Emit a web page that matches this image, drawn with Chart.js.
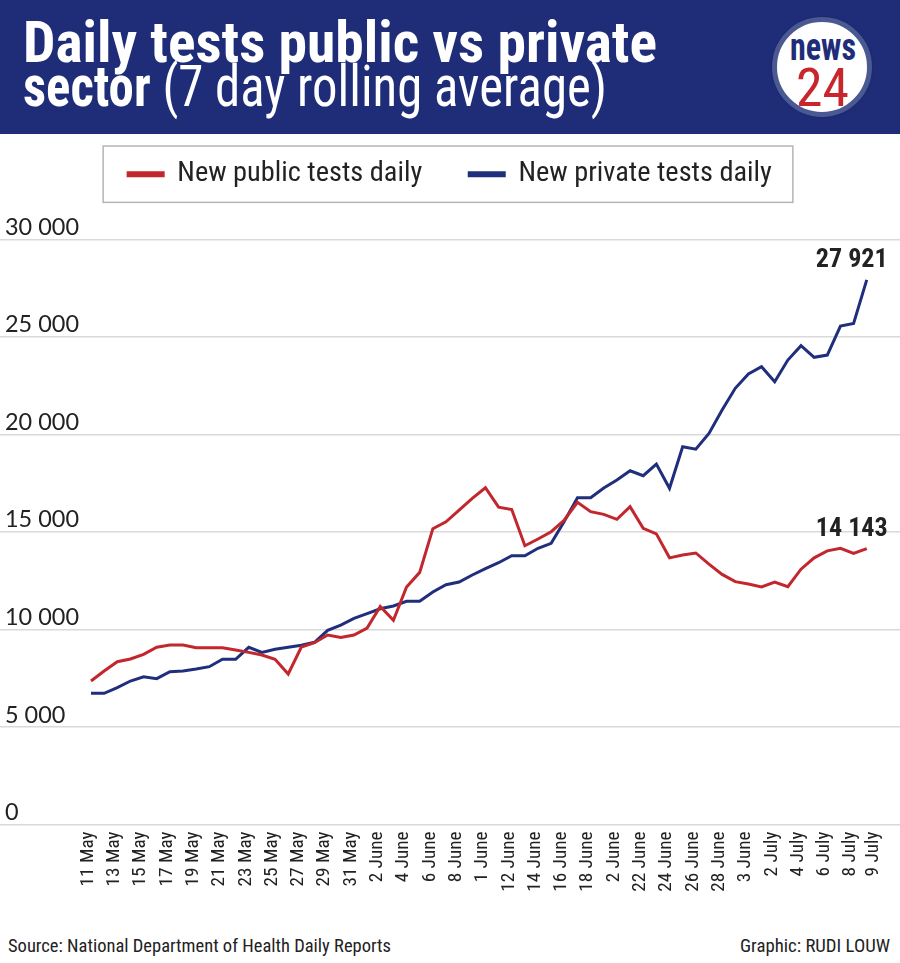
<!DOCTYPE html>
<html lang="en">
<head>
<meta charset="utf-8">
<title>Daily tests public vs private sector</title>
<script src="https://cdn.jsdelivr.net/npm/chart.js@4.4.1/dist/chart.umd.min.js"></script>
<style>
  html, body { margin:0; padding:0; background:#fff; }
  #page { position:relative; width:900px; height:963px; overflow:hidden; background:#fff; }
  #header { position:absolute; left:0; top:0; width:900px; height:134px; background:#1f2d79; }
  .ht { position:absolute; left:23px; white-space:nowrap; color:#fff; transform-origin:0 0; line-height:1; }
  #logo { position:absolute; left:772px; top:17px; width:100px; height:100px; border-radius:50%; background:#fff; box-sizing:border-box; border:5px solid #4b5993; box-shadow:0 0 2px #15205a; }
  #logoNews, #logo24 { position:absolute; white-space:nowrap; line-height:1; transform-origin:0 0; }
  #logoNews { color:#1f2d79; font-weight:bold; }
  #logo24 { color:#c8252c; }
  #chartBox { position:absolute; left:0; top:113px; width:900px; height:822px; }
  .foot { position:absolute; white-space:nowrap; color:#222; transform-origin:0 0; line-height:1; }
</style>
</head>
<body>
<div id="page">
  <div id="header">
    <div class="ht" id="t1" style="font-weight:bold">Daily tests public vs private</div>
    <div class="ht" id="t2"><b>sector</b> <span style="font-weight:normal">(7 day rolling average)</span></div>
    <div id="logo"><div id="logoNews">news</div><div id="logo24">24</div></div>
  </div>
  <div id="chartBox"><canvas id="c" width="900" height="822"></canvas></div>
  <div class="foot" id="src">Source: National Department of Health Daily Reports</div>
  <div class="foot" id="cred">Graphic: RUDI LOUW</div>
</div>
<script>
// ---------------- data ----------------
const dates = [
  '11 May','12 May','13 May','14 May','15 May','16 May','17 May','18 May','19 May','20 May',
  '21 May','22 May','23 May','24 May','25 May','26 May','27 May','28 May','29 May','30 May','31 May',
  '1 June','2 June','3 June','4 June','5 June','6 June','7 June','8 June','9 June','10 June',
  '11 June','12 June','13 June','14 June','15 June','16 June','17 June','18 June','19 June','20 June',
  '21 June','22 June','23 June','24 June','25 June','26 June','27 June','28 June','29 June','30 June',
  '1 July','2 July','3 July','4 July','5 July','6 July','7 July','8 July','9 July'
];
const publicTests = [
  7355, 7870, 8345, 8485, 8725, 9085, 9200, 9200, 9060, 9060,
  9060, 8945, 8825, 8690, 8470, 7715, 9100, 9320, 9715, 9585,
  9715, 10070, 11180, 10465, 12175, 12925, 15165, 15520, 16120, 16720,
  17265, 16270, 16150, 14290, 14635, 15010, 15610, 16515, 16035, 15900,
  15645, 16290, 15180, 14900, 13670, 13815, 13920, 13350, 12820, 12450,
  12330, 12180, 12430, 12190, 13090, 13670, 14030, 14160, 13900, 14143
];
const privateTests = [
  6725, 6725, 7015, 7355, 7575, 7475, 7835, 7870, 7970, 8090,
  8470, 8470, 9085, 8825, 8980, 9085, 9185, 9340, 9950, 10225,
  10570, 10810, 11060, 11200, 11440, 11440, 11920, 12290, 12430, 12790,
  13120, 13420, 13780, 13780, 14160, 14415, 15550, 16750, 16750, 17250,
  17660, 18135, 17880, 18480, 17235, 19365, 19240, 20050, 21245, 22360,
  23095, 23470, 22700, 23810, 24545, 23950, 24065, 25555, 25690, 27921
];
const xTickLabels = [
  '11 May','13 May','15 May','17 May','19 May','21 May','23 May','25 May','27 May','29 May','31 May',
  '2 June','4 June','6 June','8 June','1 June','12 June','14 June','16 June','18 June','2 June',
  '22 June','24 June','26 June','28 June','3 June','2 July','4 July','6 July','8 July','9 July'
];
const yTickValues = [0, 5000, 10000, 15000, 20000, 25000, 30000];
const seriesNames = ['New public tests daily', 'New private tests daily'];
const seriesColors = ['#c1272d', '#1f2f7b'];

// ---------------- fonts ----------------
function hasFont(name) {
  const c = document.createElement('canvas').getContext('2d');
  const t = 'mmmmmmmmmmlliWWQ 0123456789';
  for (const base of ['monospace', 'serif']) {
    c.font = '72px ' + base; const w0 = c.measureText(t).width;
    c.font = '72px "' + name + '", ' + base; const w1 = c.measureText(t).width;
    if (Math.abs(w1 - w0) > 0.5) return true;
  }
  return false;
}
const candidates = ['Roboto Condensed', 'Liberation Sans Narrow', 'DejaVu Sans Condensed'];
const narrow = candidates.find(hasFont) || 'Roboto';
const NF = '"' + narrow + '", "DejaVu Sans Condensed", Roboto, sans-serif';

const mctx = document.createElement('canvas').getContext('2d');
function fitSize(text, weight, family, target) {
  mctx.font = weight + ' 100px ' + family;
  return 100 * target / mctx.measureText(text).width;
}
function fmt(n) { return String(Math.round(n)).replace(/\B(?=(\d{3})+(?!\d))/g, ' '); }

// ---------------- HTML text ----------------
function place(id, family, size, left, top, width) {
  const el = document.getElementById(id);
  el.style.fontFamily = family;
  el.style.fontSize = size + 'px';
  el.style.left = left + 'px';
  el.style.top = top + 'px';
  const w = el.getBoundingClientRect().width;
  if (width) el.style.transform = 'scaleX(' + (width / w) + ')';
  return el;
}
place('t1', NF, 58, 23, 13, 634);
place('t2', NF, 58, 23, 57, 584);
place('logoNews', NF, 38, 13, 6, 66);
place('logo24', NF, 54, 19, 39, 53);
place('src', NF, 18, 8, 937, 383);
place('cred', NF, 18, 740, 937, 150);

// ---------------- chart ----------------
const legendSize = fitSize(seriesNames[0], 'normal', NF, 245);
const xTickSize = fitSize('11 May', 'normal', NF, 55);
const yTickSize = fitSize('30 000', 'normal', 'Lato', 74);
const annSize = fitSize('27 921', 'bold', NF, 72);

const LEGEND_H = 126.3;   // chart area starts below the legend block
const X_AXIS_H = 110.5;   // room for the rotated date labels

const legendHeightPlugin = {
  id: 'legendHeight',
  afterInit(chart) {
    const lg = chart.legend;
    const orig = lg.fit;
    lg.fit = function () { orig.call(this); this.height = LEGEND_H; };
  }
};
const legendBoxPlugin = {
  id: 'legendBox',
  afterDraw(chart) {
    const hb = chart.legend.legendHitBoxes;
    if (!hb || !hb.length) return;
    const first = hb[0], last = hb[hb.length - 1];
    const ctx = chart.ctx;
    ctx.save();
    ctx.strokeStyle = '#b5b5b5';
    ctx.lineWidth = 1.5;
    const l = first.left - 25, r = last.left + last.width + 21;
    const t = first.top - 14, b = first.top + first.height + 14;
    ctx.strokeRect(l, t, r - l, b - t);
    ctx.restore();
  }
};
// the last date label sits a little apart from its neighbour, as in the original graphic
const lastLabelGap = {
  id: 'lastLabelGap',
  beforeDraw(chart) {
    const items = chart.scales.x.getLabelItems();
    if (items.length) items[items.length - 1].options.translation[0] += 9;
  }
};
const endLabelPlugin = {
  id: 'endLabels',
  afterDatasetsDraw(chart) {
    const ctx = chart.ctx;
    ctx.save();
    ctx.font = 'bold ' + annSize + 'px ' + NF;
    ctx.fillStyle = '#222';
    ctx.textAlign = 'right';
    ctx.textBaseline = 'middle';
    chart.data.datasets.forEach((ds, di) => {
      const meta = chart.getDatasetMeta(di);
      const pt = meta.data[meta.data.length - 1];
      const v = ds.data[ds.data.length - 1].y;
      ctx.fillText(fmt(v), pt.x + 21, pt.y - 19);
    });
    ctx.restore();
  }
};

const tickIdx = xTickLabels.map((_, k) => Math.min(2 * k, dates.length - 1));

new Chart(document.getElementById('c'), {
  type: 'line',
  data: {
    datasets: [
      { label: seriesNames[0], data: publicTests.map((v, i) => ({ x: i, y: v })),
        borderColor: seriesColors[0], backgroundColor: seriesColors[0], borderWidth: 3,
        pointRadius: 0, tension: 0, fill: false },
      { label: seriesNames[1], data: privateTests.map((v, i) => ({ x: i, y: v })),
        borderColor: seriesColors[1], backgroundColor: seriesColors[1], borderWidth: 3,
        pointRadius: 0, tension: 0, fill: false }
    ]
  },
  options: {
    responsive: false,
    devicePixelRatio: 1,
    animation: false,
    layout: { padding: 0 },
    plugins: {
      legend: {
        position: 'top', align: 'center',
        labels: { boxWidth: 35, boxHeight: 3, padding: 47, color: '#222',
                  font: { family: NF, size: legendSize } }
      },
      tooltip: { enabled: false }
    },
    scales: {
      x: {
        type: 'linear', min: -6.92, max: 61.53,
        grid: { display: false, drawTicks: false }, border: { display: false },
        afterBuildTicks: s => { s.ticks = tickIdx.map(v => ({ value: v })); },
        afterFit: s => { s.height = X_AXIS_H; s.paddingLeft = 0; s.paddingRight = 0; },
        ticks: { autoSkip: false, maxRotation: 90, minRotation: 90, padding: 7, labelOffset: -3,
                 color: '#222', font: { family: NF, size: xTickSize },
                 callback: (v, i) => xTickLabels[i] }
      },
      y: {
        min: 0, max: 30000,
        grid: { color: '#d9d9d9', lineWidth: 1.5, drawTicks: false }, border: { display: false },
        afterBuildTicks: s => { s.ticks = yTickValues.map(v => ({ value: v })); },
        afterFit: s => { s.width = 0; s.paddingTop = 0; s.paddingBottom = 0; },
        ticks: { mirror: true, padding: 5, labelOffset: -12, color: '#222',
                 font: { family: 'Lato', size: yTickSize },
                 callback: v => fmt(v) }
      }
    }
  },
  plugins: [legendHeightPlugin, legendBoxPlugin, lastLabelGap, endLabelPlugin]
});
</script>
</body>
</html>
